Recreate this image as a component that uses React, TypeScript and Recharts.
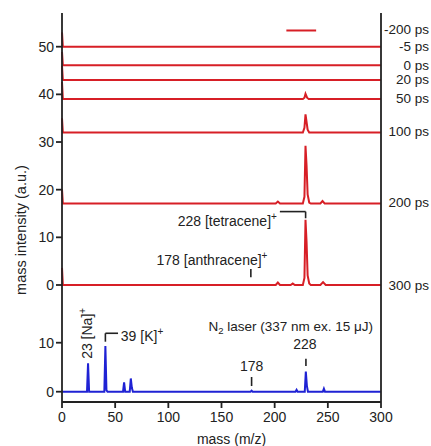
import {
  LineChart,
  Line,
  XAxis,
  YAxis,
  ReferenceLine,
  ReferenceDot,
} from "recharts";

type Pt = [number, number];

// time-resolved traces (top panel, offset baselines in a.u.)
const traceM200ps: Pt[] = [[211, 53.4], [239, 53.4]];
const traceM5ps: Pt[] = [[0, 53.0], [0.8, 50.0], [300, 50.0]];
const trace0ps: Pt[] = [[0, 48.9], [0.8, 46.1], [300, 46.1]];
const trace20ps: Pt[] = [[0, 46.0], [0.8, 43.0], [300, 43.0]];
const trace50ps: Pt[] = [
  [0, 42.6], [0.8, 39.0], [226.5, 39.0], [228, 39.3], [229, 40.1], [230.5, 39.3], [232, 39.0], [300, 39.0],
];
const trace100ps: Pt[] = [
  [0, 35.0], [0.8, 32.0], [226.5, 32.0], [228, 33.0], [229, 35.8], [230, 34.2], [231, 32.6], [232.5, 32.0], [300, 32.0],
];
const trace200ps: Pt[] = [
  [0, 20.1], [0.8, 17.1], [201, 17.1], [203, 17.5], [205, 17.1], [226.5, 17.1], [228, 18.5], [229, 29.2],
  [230, 25.0], [231, 19.0], [232.5, 17.3], [234, 17.1], [243, 17.1], [245, 17.6], [247, 17.1], [300, 17.1],
];
const trace300ps: Pt[] = [
  [0, 3.6], [0.8, 0], [201, 0], [203, 0.5], [205, 0], [215, 0], [217, 0.3], [219, 0], [226.5, 0], [228, 1.5],
  [229, 13.7], [230, 9.0], [231, 2.0], [232.5, 0.3], [234, 0], [243, 0], [245.5, 0.6], [248, 0], [300, 0],
];

// N2 laser reference spectrum (bottom panel, its own 0..10 scale)
const traceN2: Pt[] = [
  [0, 0], [23.5, 0], [24.5, 5.8], [25.5, 0], [39.8, 0], [40.8, 9.3], [41.8, 0.3], [42.8, 0], [57.4, 0],
  [58.4, 1.9], [59.4, 0], [63.7, 0], [64.7, 2.7], [65.7, 0.8], [66.7, 0], [177.3, 0], [178.3, 0.2],
  [179.3, 0], [219.6, 0], [220.6, 0.4], [221.6, 0], [228.3, 0], [229.3, 4.1], [230.3, 1.2], [231.3, 0],
  [245.3, 0], [246.3, 0.6], [247.3, 0], [300, 0],
];

const delayLabels = ["-200 ps", "-5 ps", "0 ps", "20 ps", "50 ps", "100 ps", "200 ps", "300 ps"];
const delayLabelY = [53.7, 50.0, 46.2, 43.2, 39.2, 32.3, 17.35, -0.15];

const massTicks = [0, 50, 100, 150, 200, 250, 300];
const topTicks = [0, 10, 20, 30, 40, 50];
const bottomTicks = [0, 10];

// bottom panel sits below the top one on the shared axis
const bottomZero = -22.39;
const bottomScale = 1.028;
const toShared = (v: number) => bottomZero + v * bottomScale;

const Y_DOMAIN: [number, number] = [-24.55, 57.07];
const RED = "#d71f26";
const BLUE = "#1f22d4";
const INK = "#222";
const FONT = "Arial, 'Liberation Sans', sans-serif";

const toRows = (pts: Pt[]) => pts.map(([mass, v]) => ({ mass, v }));

const redTraces = [traceM200ps, traceM5ps, trace0ps, trace20ps, trace50ps, trace100ps, trace200ps, trace300ps];
const blueRows = traceN2.map(([mass, v]) => ({ mass, v: toShared(v) }));

const leftTickValues = [...bottomTicks.map(toShared), ...topTicks];
const leftTickLabels = [...bottomTicks, ...topTicks].map(String);

const labelFor = (values: number[], labels: string[], v: number) => {
  let best = 0;
  values.forEach((t, i) => {
    if (Math.abs(t - v) < Math.abs(values[best] - v)) best = i;
  });
  return labels[best];
};

function textShape(content: React.ReactNode, opts: { anchor?: string; size?: number; rotate?: boolean } = {}) {
  return (p: { cx?: number; cy?: number }) => {
    const x = p.cx ?? 0;
    const y = p.cy ?? 0;
    return (
      <text
        x={x}
        y={y}
        fill={INK}
        fontSize={opts.size ?? 14}
        fontFamily={FONT}
        textAnchor={opts.anchor ?? "start"}
        transform={opts.rotate ? `rotate(-90, ${x}, ${y})` : undefined}
      >
        {content}
      </text>
    );
  };
}

const sup = (s: string) => (
  <tspan fontSize={10} dy={-6}>
    {s}
  </tspan>
);

type TickProps = { x?: number; y?: number; payload?: { value: number } };

function DelayTick(props: TickProps) {
  return (
    <text x={429} y={props.y} dy="0.35em" fill={INK} fontSize={13.5} fontFamily={FONT} textAnchor="end">
      {labelFor(delayLabelY, delayLabels, props.payload?.value ?? 0)}
    </text>
  );
}

function IntensityTick(props: TickProps) {
  return (
    <text x={54} y={props.y} dy="0.36em" fill={INK} fontSize={14} fontFamily={FONT} textAnchor="end">
      {labelFor(leftTickValues, leftTickLabels, props.payload?.value ?? 0)}
    </text>
  );
}

function MassTick(props: TickProps) {
  return (
    <text x={props.x} y={422} fill={INK} fontSize={14} fontFamily={FONT} textAnchor="middle">
      {props.payload?.value}
    </text>
  );
}

const seg = (x1: number, y1: number, x2: number, y2: number) => (
  <ReferenceLine
    yAxisId="left"
    segment={[{ x: x1, y: y1 }, { x: x2, y: y2 }]}
    stroke={INK}
    strokeWidth={1.6}
  />
);

export default function App() {
  return (
    <div style={{ position: "absolute", left: 0, top: 0, background: "#fff" }}>
      <LineChart width={431} height={446} margin={{ top: 13, right: 0, bottom: 0, left: 0 }}>
        <XAxis
          dataKey="mass"
          type="number"
          domain={[0, 300]}
          ticks={massTicks}
          interval={0}
          height={44}
          tickSize={6}
          stroke={INK}
          strokeWidth={1.8}
          tick={<MassTick />}
          label={{
            value: "mass (m/z)",
            position: "insideBottom",
            offset: 2,
            dx: 10,
            fill: INK,
            fontSize: 14,
            fontFamily: FONT,
          }}
        />
        <XAxis xAxisId="top" orientation="top" type="number" domain={[0, 300]} height={0} tick={false} tickLine={false} stroke={INK} strokeWidth={1.8} />
        <YAxis
          yAxisId="left"
          type="number"
          domain={Y_DOMAIN}
          allowDataOverflow
          ticks={leftTickValues}
          interval={0}
          width={62}
          tickSize={6}
          stroke={INK}
          strokeWidth={1.8}
          tick={<IntensityTick />}
          label={{
            content: () => (
              <text x={26} y={230} transform="rotate(-90, 26, 230)" textAnchor="middle" fill={INK} fontSize={14.5} fontFamily={FONT}>
                mass intensity (a.u.)
              </text>
            ),
          }}
        />
        <YAxis
          yAxisId="right"
          orientation="right"
          type="number"
          domain={Y_DOMAIN}
          allowDataOverflow
          ticks={delayLabelY}
          interval={0}
          width={50}
          tickLine={false}
          stroke={INK}
          strokeWidth={1.8}
          tick={<DelayTick />}
        />

        {redTraces.map((t, i) => (
          <Line
            key={delayLabels[i]}
            yAxisId="left"
            data={toRows(t)}
            dataKey="v"
            type="linear"
            stroke={RED}
            strokeWidth={2}
            dot={false}
            isAnimationActive={false}
          />
        ))}
        <Line
          yAxisId="left"
          data={blueRows}
          dataKey="v"
          type="linear"
          stroke={BLUE}
          strokeWidth={2}
          dot={false}
          isAnimationActive={false}
        />

        {/* top panel annotations */}
        {seg(204.9, 15.4, 229.1, 15.4)}
        {seg(229.1, 15.4, 229.1, 14.0)}
        <ReferenceDot yAxisId="left" x={202.1} y={12.4} r={0} shape={textShape(<>228 [tetracene]{sup("+")}</>, { anchor: "end" })} />
        <ReferenceDot yAxisId="left" x={88.9} y={4.3} r={0} shape={textShape(<>178 [anthracene]{sup("+")}</>)} />
        {seg(177.6, 3.36, 177.6, 1.6)}

        {/* bottom panel annotations */}
        <ReferenceDot yAxisId="left" x={28.2} y={-15.5} r={0} shape={textShape(<>23 [Na]{sup("+")}</>, { rotate: true })} />
        {seg(40.8, -11.9, 40.8, -10.13)}
        {seg(40.8, -10.13, 52.7, -10.13)}
        <ReferenceDot yAxisId="left" x={55.3} y={-11.75} r={0} shape={textShape(<>39 [K]{sup("+")}</>)} />
        <ReferenceDot
          yAxisId="left"
          x={292.5}
          y={-9.65}
          r={0}
          shape={textShape(
            <>
              N<tspan fontSize={9.5} dy={3}>2</tspan>
              <tspan dy={-3}> laser (337 nm ex. 15 μJ)</tspan>
            </>,
            { anchor: "end", size: 13.5 }
          )}
        />
        <ReferenceDot yAxisId="left" x={228.5} y={-13.4} r={0} shape={textShape("228", { anchor: "middle" })} />
        {seg(229.4, -15.5, 229.4, -17.0)}
        <ReferenceDot yAxisId="left" x={178.3} y={-18.1} r={0} shape={textShape("178", { anchor: "middle" })} />
        {seg(178.3, -19.3, 178.3, -21.2)}
      </LineChart>
    </div>
  );
}
